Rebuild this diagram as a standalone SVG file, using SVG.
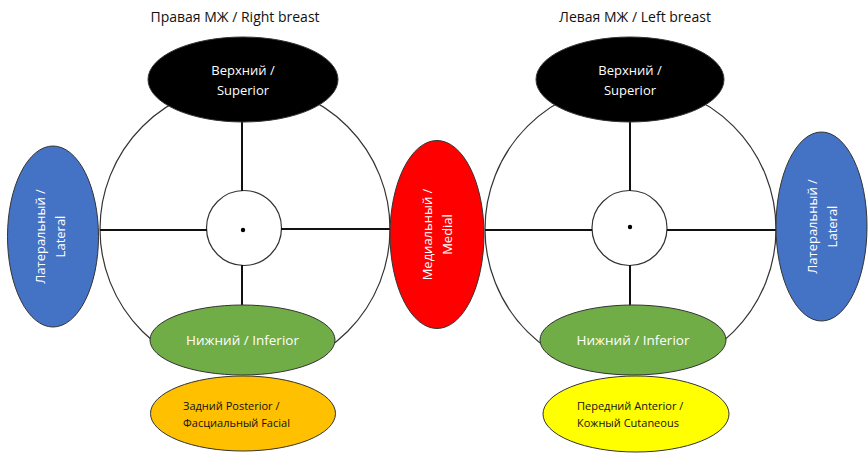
<svg xmlns="http://www.w3.org/2000/svg" width="868" height="454" viewBox="0 0 868 454">
<style>
.ring{fill:#fff;stroke:#333;stroke-width:1.2}
.ln{stroke:#111;stroke-width:2;fill:none}
.node{stroke:#333;stroke-width:1}
.t{font-family:"Open Sans","Liberation Sans",sans-serif;text-anchor:middle}
.w{fill:#fff;font-size:13px}
.k{fill:#111;font-size:11px;text-anchor:start}
.title{fill:#111;font-size:14px}
</style>
<rect width="868" height="454" fill="#fff"/>
<text class="t title" x="235" y="22">Правая МЖ / Right breast</text>
<text class="t title" x="635" y="22">Левая МЖ / Left breast</text>

<g id="rings">
<circle class="ring" cx="245" cy="229" r="145"/>
<circle class="ring" cx="630.5" cy="229" r="145.5"/>
<circle class="ring" cx="244" cy="228" r="37.5"/>
<circle class="ring" cx="629.5" cy="228" r="37.5"/>
<circle cx="243" cy="230" r="2.2" fill="#000"/>
<circle cx="630" cy="227" r="2.2" fill="#000"/>
</g>

<g id="connectors">
<line class="ln" x1="100" y1="230" x2="207" y2="230"/>
<line class="ln" x1="281" y1="229" x2="390" y2="229"/>
<line class="ln" x1="242" y1="121" x2="242" y2="191"/>
<line class="ln" x1="242" y1="265" x2="242" y2="306"/>
<line class="ln" x1="485" y1="230" x2="592" y2="230"/>
<line class="ln" x1="667" y1="230" x2="776" y2="230"/>
<line class="ln" x1="630" y1="121" x2="630" y2="191"/>
<line class="ln" x1="630" y1="265" x2="630" y2="306"/>
</g>

<g id="r-superior">
<ellipse class="node" cx="243" cy="79.5" rx="95" ry="42.5" fill="#000"/>
<text class="t w" x="243" y="75">Верхний /</text>
<text class="t w" x="243" y="95">Superior</text>
</g>
<g id="l-superior">
<ellipse class="node" cx="630" cy="79.5" rx="94" ry="42.5" fill="#000"/>
<text class="t w" x="630" y="75">Верхний /</text>
<text class="t w" x="630" y="95">Superior</text>
</g>

<g id="r-lateral">
<ellipse class="node" cx="53" cy="236.5" rx="45.5" ry="90.5" fill="#4472c4"/>
<text class="t w" transform="translate(45 236.5) rotate(-90)">Латеральный /</text>
<text class="t w" transform="translate(65 236.5) rotate(-90)">Lateral</text>
</g>

<g id="medial">
<ellipse class="node" cx="437" cy="234.5" rx="47" ry="94" fill="#ff0000"/>
<text class="t w" transform="translate(432 234.5) rotate(-90)">Медиальный /</text>
<text class="t w" transform="translate(452 234.5) rotate(-90)">Medial</text>
</g>

<g id="l-lateral">
<ellipse class="node" cx="821.5" cy="226.5" rx="45.5" ry="94.5" fill="#4472c4"/>
<text class="t w" transform="translate(817 226.5) rotate(-90)">Латеральный /</text>
<text class="t w" transform="translate(837 226.5) rotate(-90)">Lateral</text>
</g>

<g id="r-inferior">
<ellipse class="node" cx="242.5" cy="340" rx="92.5" ry="35" fill="#70ad47"/>
<text class="t w" x="242.5" y="345" style="font-size:13.5px">Нижний / Inferior</text>
</g>
<g id="l-inferior">
<ellipse class="node" cx="633" cy="340" rx="93" ry="35" fill="#70ad47"/>
<text class="t w" x="633" y="345" style="font-size:13.5px">Нижний / Inferior</text>
</g>

<g id="r-posterior">
<ellipse class="node" cx="243" cy="413.5" rx="92.5" ry="37.5" fill="#ffc000"/>
<text class="t k" x="183" y="410">Задний Posterior  /</text>
<text class="t k" x="183" y="427">Фасциальный Facial</text>
</g>
<g id="l-anterior">
<ellipse class="node" cx="636" cy="414" rx="93" ry="38" fill="#ffff00"/>
<text class="t k" x="577" y="410">Передний Anterior /</text>
<text class="t k" x="577" y="427">Кожный Cutaneous</text>
</g>
</svg>
